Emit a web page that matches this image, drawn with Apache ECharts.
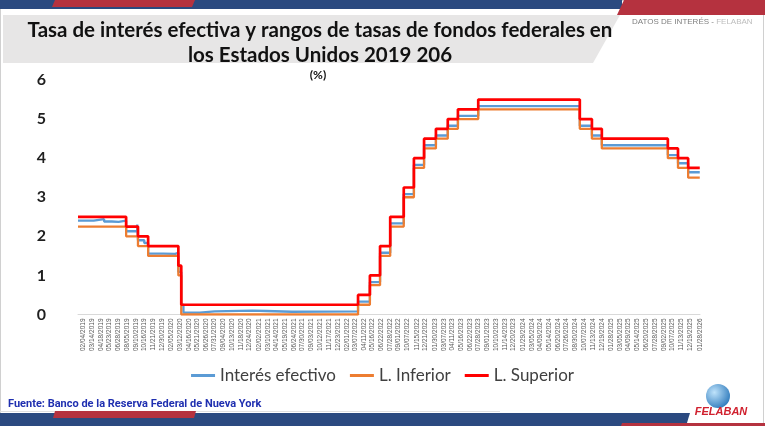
<!DOCTYPE html>
<html><head><meta charset="utf-8">
<script src="https://cdn.jsdelivr.net/npm/echarts@6/dist/echarts.min.js"></script>
<style>html,body{margin:0;padding:0;background:#fff}#c{width:765px;height:426px}</style>
</head><body><div id="c"></div>
<script>
// ---- data ----
const tickLabels = [
 '02/04/2019','03/14/2019','04/18/2019','05/23/2019','06/28/2019','08/05/2019','09/10/2019','10/16/2019','11/21/2019','12/30/2019',
 '02/05/2020','03/12/2020','04/16/2020','05/21/2020','06/26/2020','07/31/2020','09/04/2020','10/13/2020','11/18/2020','12/24/2020',
 '02/02/2021','03/10/2021','04/14/2021','05/19/2021','06/24/2021','07/30/2021','09/03/2021','10/12/2021','11/17/2021','12/23/2021',
 '02/01/2022','03/07/2022','04/11/2022','05/16/2022','06/22/2022','07/28/2022','09/01/2022','10/07/2022','11/15/2022','12/21/2022',
 '01/30/2023','03/07/2023','04/11/2023','05/16/2023','06/22/2023','07/28/2023','09/01/2023','10/10/2023','11/14/2023','12/20/2023',
 '01/29/2024','03/05/2024','04/09/2024','05/14/2024','06/20/2024','07/26/2024','08/30/2024','10/07/2024','11/13/2024','12/19/2024',
 '01/28/2025','03/05/2025','04/09/2025','05/14/2025','06/20/2025','07/28/2025','09/02/2025','10/07/2025','11/13/2025','12/19/2025',
 '01/28/2026'
];
const rangeDates = ['2019-01-14','2019-08-01','2019-09-19','2019-10-31','2020-03-04','2020-03-16','2022-03-17','2022-05-05','2022-06-16','2022-07-28','2022-09-22','2022-11-03','2022-12-15','2023-02-02','2023-03-23','2023-05-04','2023-07-27','2024-09-19','2024-11-08','2024-12-19','2025-09-18','2025-10-30','2025-12-11','2026-01-28'];
const upperValues = [2.50,2.25,2.00,1.75,1.25,0.25,0.50,1.00,1.75,2.50,3.25,4.00,4.50,4.75,5.00,5.25,5.50,5.00,4.75,4.50,4.25,4.00,3.75,3.75];
const lowerValues = [2.25,2.00,1.75,1.50,1.00,0.00,0.25,0.75,1.50,2.25,3.00,3.75,4.25,4.50,4.75,5.00,5.25,4.75,4.50,4.25,4.00,3.75,3.50,3.50];
const effDates = ['2019-01-14','2019-03-20','2019-04-10','2019-05-02','2019-06-03','2019-07-01','2019-08-01','2019-09-16','2019-09-18','2019-09-19','2019-10-15','2019-10-31','2020-01-02','2020-02-20','2020-03-04','2020-03-16','2020-03-25','2020-06-01','2020-08-01','2021-01-04','2021-03-01','2021-06-17','2022-03-17','2022-05-05','2022-06-16','2022-07-28','2022-09-22','2022-11-03','2022-12-15','2023-02-02','2023-03-23','2023-05-04','2023-07-27','2024-09-19','2024-11-08','2024-12-19','2025-09-18','2025-10-30','2025-12-11','2026-01-28'];
const effValues = [2.40,2.42,2.44,2.38,2.37,2.40,2.13,2.30,2.25,1.90,1.83,1.56,1.55,1.58,1.09,0.25,0.05,0.08,0.10,0.09,0.07,0.08,0.33,0.83,1.58,2.33,3.08,3.83,4.33,4.58,4.83,5.08,5.33,4.83,4.58,4.33,4.08,3.87,3.64,3.64];
const seriesNames = ['Interés efectivo','L. Inferior','L. Superior'];
const yTicks = [0,1,2,3,4,5,6];

// ---- helpers ----
function ts(s){const p=s.split('-');return new Date(+p[0],+p[1]-1,+p[2]).getTime();}
function tsUS(s){const p=s.split('/');return new Date(+p[2],+p[0]-1,+p[1]).getTime();}
function pad(n){return (n<10?'0':'')+n;}
function fmt(v){const d=new Date(v);return pad(d.getMonth()+1)+'/'+pad(d.getDate())+'/'+d.getFullYear();}
const tickTs = tickLabels.map(tsUS);
const pairs = (dates, vals) => dates.map((d,i)=>[ts(d), vals[i]]);

const chart = echarts.init(document.getElementById('c'), null, {renderer:'canvas'});
const FONT = 'Lato';
chart.setOption({
  backgroundColor:'#ffffff',
  animation:false,
  grid:{left:78,right:65,top:80,bottom:111.5},
  xAxis:{
    type:'value', min:ts('2019-01-14'), max:ts('2026-01-29'), scale:true,
    axisLine:{show:true,lineStyle:{color:'#d9d9d9',width:1}},
    axisTick:{show:false}, splitLine:{show:false},
    axisLabel:{customValues:tickTs, rotate:90, fontSize:6.5, color:'#595959', margin:4, hideOverlap:false,
      fontFamily:'Liberation Sans', formatter:fmt}
  },
  yAxis:{
    type:'value', min:yTicks[0], max:yTicks[yTicks.length-1], interval:1,
    axisLine:{show:false}, axisTick:{show:false}, splitLine:{show:false},
    axisLabel:{fontSize:16, fontWeight:'bold', color:'#1f1f1f', margin:32, fontFamily:FONT}
  },
  legend:{
    top:362, left:'center', icon:'rect', itemWidth:24, itemHeight:3, itemGap:14,
    textStyle:{fontSize:17, color:'#404040', fontFamily:FONT},
    data:seriesNames
  },
  series:[
    {name:seriesNames[0], type:'line', step:'end', symbol:'none', data:pairs(effDates,effValues),
     lineStyle:{color:'#5B9BD5',width:2.3}, itemStyle:{color:'#5B9BD5'}, z:2},
    {name:seriesNames[1], type:'line', step:'end', symbol:'none', data:pairs(rangeDates,lowerValues),
     lineStyle:{color:'#ED7D31',width:2.3}, itemStyle:{color:'#ED7D31'}, z:3},
    {name:seriesNames[2], type:'line', step:'end', symbol:'none', data:pairs(rangeDates,upperValues),
     lineStyle:{color:'#FF0000',width:2.7}, itemStyle:{color:'#FF0000'}, z:4}
  ],
  graphic:[
    {type:'rect', shape:{x:0.5,y:0.5,width:763,height:424}, style:{fill:null,stroke:'#d0d0d0',lineWidth:1}, z:0},
    {type:'rect', shape:{x:0,y:0,width:622,height:9}, style:{fill:'#2B4A80'}, z:10},
    {type:'polygon', shape:{points:[[55,0],[195,0],[192,7],[52,7]]}, style:{fill:'#B5323F'}, z:11},
    {type:'polygon', shape:{points:[[624,0],[765,0],[765,15],[617,15]]}, style:{fill:'#B5323F'}, z:11},
    {type:'polygon', shape:{points:[[3,15],[620,15],[593,63],[3,63]]}, style:{fill:'#E7E6E6'}, z:1},
    {type:'text', style:{x:320,y:30,text:'Tasa de interés efectiva y rangos de tasas de fondos federales en',
      font:'bold 20.5px '+FONT, fill:'#111', textAlign:'center', textVerticalAlign:'middle'}, z:12},
    {type:'text', style:{x:320,y:55,text:'los Estados Unidos 2019 206',
      font:'bold 20.5px '+FONT, fill:'#111', textAlign:'center', textVerticalAlign:'middle'}, z:12},
    {type:'text', style:{x:318,y:75,text:'(%)', font:'bold 12px '+FONT, fill:'#111', textAlign:'center', textVerticalAlign:'middle'}, z:12},
    {type:'text', style:{x:632,y:22,text:'{a|DATOS DE INTERÉS - }{b|FELABAN}',
      rich:{a:{fontSize:8,fill:'#7f7f7f',fontFamily:'Liberation Sans'},b:{fontSize:8,fill:'#bdbdbd',fontFamily:'Liberation Sans'}},
      textVerticalAlign:'middle'}, z:12},
    {type:'text', style:{x:8,y:404,text:'Fuente: Banco de la Reserva Federal de Nueva York',
      font:'bold 11px Roboto', fill:'#1F2FB0', textVerticalAlign:'middle'}, z:12},
    {type:'rect', shape:{x:0,y:411,width:500,height:1}, style:{fill:'#e0e0e0'}, z:10},
    {type:'polygon', shape:{points:[[0,413],[690,413],[686,426],[0,426]]}, style:{fill:'#2B4A80'}, z:10},
    {type:'polygon', shape:{points:[[55,411],[196,411],[194,418],[53,418]]}, style:{fill:'#B5323F'}, z:11},
    {type:'polygon', shape:{points:[[622,423],[765,423],[765,426],[621,426]]}, style:{fill:'#B5323F'}, z:11},
    {type:'circle', shape:{cx:718,cy:396,r:12}, style:{fill:new echarts.graphic.RadialGradient(0.35,0.35,0.8,[{offset:0,color:'#bfe3fb'},{offset:1,color:'#1f6fb5'}])}, z:12},
    {type:'text', style:{x:721,y:412,text:'FELABAN', font:'italic bold 11px Liberation Sans', fill:'#D0202E', textAlign:'center', textVerticalAlign:'middle'}, z:12}
  ]
});
</script>
</body></html>
